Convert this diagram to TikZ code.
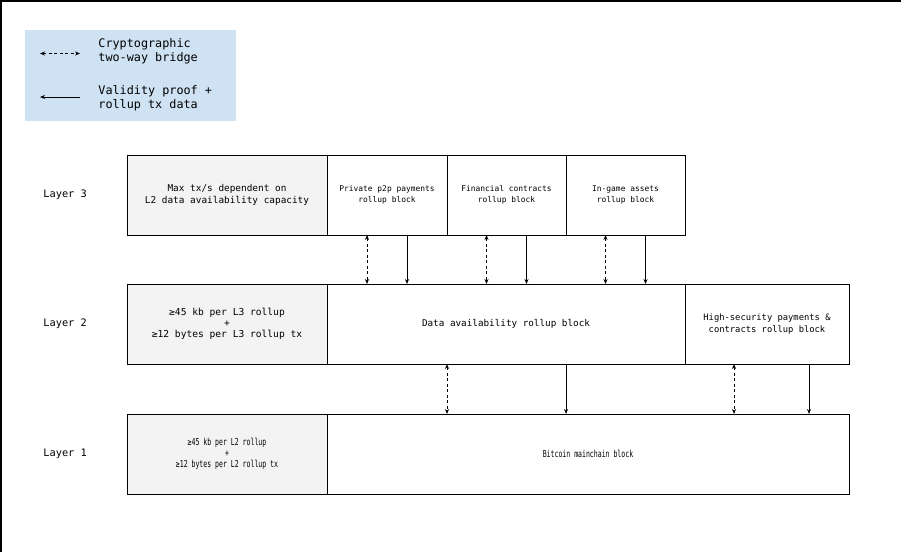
\documentclass[tikz,border=0pt]{standalone}
\usepackage{fontspec}
\setmonofont{DejaVu Sans Mono}
\newfontfamily\narrowmono[FakeStretch=0.68]{DejaVu Sans Mono}
\usetikzlibrary{positioning,arrows.meta}
\definecolor{legendblue}{HTML}{CFE2F3}
\definecolor{notegrey}{HTML}{F3F3F3}

\begin{document}
\begin{tikzpicture}[x=1pt, y=-1pt, thick,
		block/.style={draw, rectangle, line width=1pt, outer sep=0pt, inner sep=2pt, align=center,
			minimum height=80pt, font=\ttfamily\fontsize{7.9}{11}\selectfont},
		note/.style={block, fill=notegrey, minimum width=200pt, font=\ttfamily\fontsize{9.4}{12}\selectfont},
		layer/.style={anchor=west, inner sep=0pt, font=\ttfamily\fontsize{10.3}{12}\selectfont},
		legendtxt/.style={anchor=west, inner sep=0pt, align=left, font=\ttfamily\fontsize{11.8}{14}\selectfont},
		proof/.style={-{Stealth[length=5pt,width=4pt]}, line width=0.8pt},
		bridge/.style={{Stealth[length=5pt,width=4pt]}-{Stealth[length=5pt,width=4pt]},
			line width=0.8pt, dash pattern=on 3pt off 2.5pt}
		]
	\useasboundingbox (0,0) rectangle (901,552);
	\draw[line width=3pt] (0,552) -- (0,0) -- (901,0);

	% legend
	\node [fill=legendblue, minimum width=211pt, minimum height=91pt, anchor=north west] (legend) at (25,30) {};
	\node [legendtxt] (bridgetxt) at (98,51.5) {Cryptographic\\two-way bridge};
	\node [legendtxt] (prooftxt) at (98,98) {Validity proof +\\rollup tx data};
	\draw [bridge] ([xshift=-58pt,yshift=-2pt]bridgetxt.west) -- ([xshift=-18pt,yshift=-2pt]bridgetxt.west);
	\draw [proof] ([xshift=-18pt,yshift=1pt]prooftxt.west) -- ([xshift=-58pt,yshift=1pt]prooftxt.west);

	% layer 3
	\node [note, anchor=north west] (max3) at (127,155) {Max tx/s dependent on\\L2 data availability capacity};
	\node [block, minimum width=120pt, right=0pt of max3] (priv) {Private p2p payments\\rollup block};
	\node [block, minimum width=119pt, right=0pt of priv] (fin) {Financial contracts\\rollup block};
	\node [block, minimum width=119pt, right=0pt of fin] (game) {In-game assets\\rollup block};

	% layer 2
	\node [note, anchor=north west, font=\ttfamily\fontsize{9.6}{11}\selectfont] (max2) at (127,284)
		{≥45 kb per L3 rollup\\+\\≥12 bytes per L3 rollup tx};
	\node [block, minimum width=358pt, right=0pt of max2, font=\ttfamily\fontsize{9.3}{11}\selectfont] (dab)
		{Data availability rollup block};
	\node [block, minimum width=164pt, right=0pt of dab, font=\ttfamily\fontsize{8.8}{12}\selectfont] (hsec)
		{High-security payments \&\\contracts rollup block};

	% layer 1
	\node [note, anchor=north west, font=\narrowmono\fontsize{9.6}{11}\selectfont] (max1) at (127,414)
		{≥45 kb per L2 rollup\\+\\≥12 bytes per L2 rollup tx};
	\node [block, minimum width=522pt, right=0pt of max1, font=\narrowmono\fontsize{9.6}{11}\selectfont] (btc)
		{Bitcoin mainchain block};

	\node [layer] (lay3) at ([xshift=-84pt]max3.west) {Layer 3};
	\node [layer] (lay2) at ([xshift=-84pt]max2.west) {Layer 2};
	\node [layer] (lay1) at ([xshift=-84pt]max1.west) {Layer 1};

	% L3 -> L2
	\foreach \n in {priv,fin,game} {
		\draw [bridge] ([xshift=-20pt]\n.south) -- ([xshift=-20pt]\n.south |- dab.north);
		\draw [proof] ([xshift=20pt]\n.south) -- ([xshift=20pt]\n.south |- dab.north);
	}

	% L2 -> L1
	\draw [bridge] ([xshift=-59pt]dab.south) -- ([xshift=-59pt]dab.south |- btc.north);
	\draw [proof] ([xshift=60pt]dab.south) -- ([xshift=60pt]dab.south |- btc.north);
	\draw [bridge] ([xshift=-33pt]hsec.south) -- ([xshift=-33pt]hsec.south |- btc.north);
	\draw [proof] ([xshift=42pt]hsec.south) -- ([xshift=42pt]hsec.south |- btc.north);
\end{tikzpicture}
\end{document}
